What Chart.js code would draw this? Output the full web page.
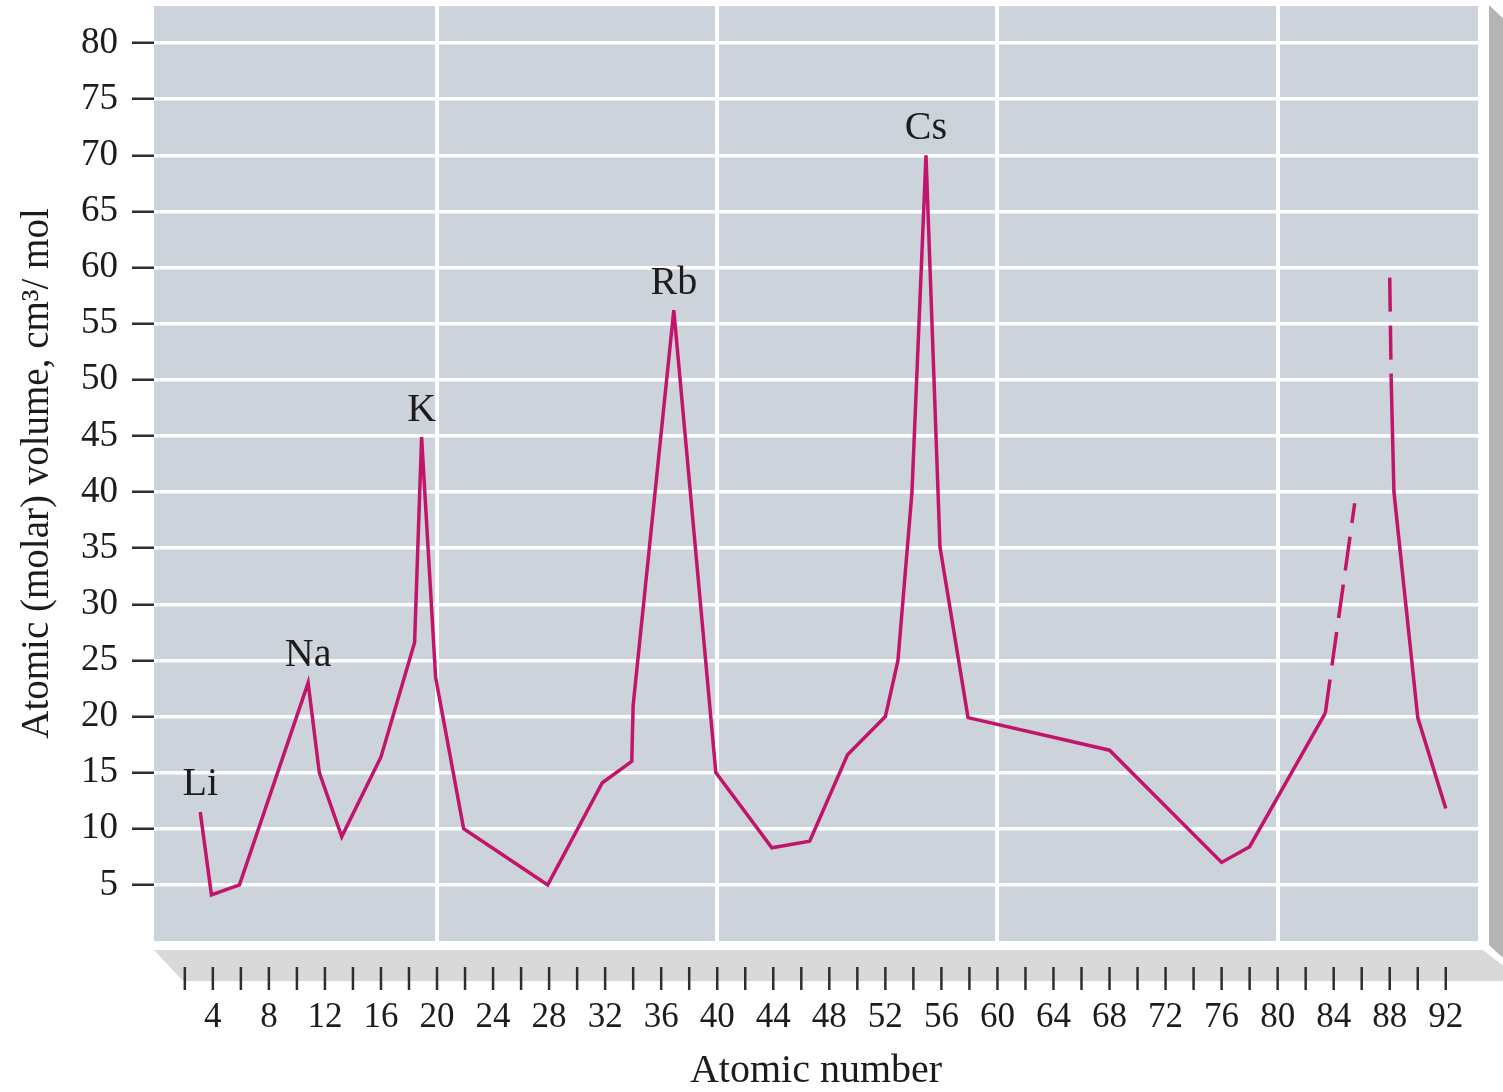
<!DOCTYPE html>
<html>
<head>
<meta charset="utf-8">
<title>Atomic volume vs atomic number</title>
<script src="https://cdn.jsdelivr.net/npm/chart.js@4"></script>
<style>
  body { margin: 0; background: #ffffff; }
  #wrap { width: 1503px; height: 1092px; }
</style>
</head>
<body>
<div id="wrap"><canvas id="volumeChart" width="1503" height="1092"></canvas></div>
<script>
// values (null = break in the curve)
const atomicNumbers = [3.1, 3.9, 5.9, 10.8, 11.6, 13.2, 16, 18.4, 18.9, 19.9, 21.9, 27.9, 31.8, 33.9, 34.0, 36.9, 39.9, 43.9, 46.6, 49.3, 52, 52.9, 53.9, 54.9, 55.9, 57.9, 68, 76, 78, 83.4, 85.5, 86.7, 88, 88.1, 88.3, 90, 92];
const molarVolumes = [11.5, 4.1, 5.0, 23.0, 15.0, 9.3, 16.4, 26.6, 44.9, 23.5, 10.0, 5.0, 14.1, 16.0, 21.0, 56.2, 15.0, 8.3, 8.9, 16.6, 20.0, 25.0, 40.0, 70.0, 35.1, 19.9, 17.0, 7.0, 8.4, 20.3, 39.0, null, 59.1, 50.2, 40.0, 19.9, 11.8];
// segments starting at these atomic numbers are drawn dashed (estimated values)
const dashedFrom = [83.4, 88];

const elementNames = ['Li', 'Na', 'K', 'Rb', 'Cs'];
const elementZ = [3.1, 10.8, 18.9, 36.9, 54.9];

const xTickMin = 4, xTickMax = 92, xTickStep = 4, xGridEvery = 20;
const yTickMin = 5, yTickMax = 80, yTickStep = 5;

const serif = 'Liberation Serif';
const inkColor = '#1c1c1c';
const lineColor = '#c2146a';

const points = atomicNumbers.map((z, i) => ({ x: z, y: molarVolumes[i] }));

// gray panel, floor with small ticks and the side wall
const boxPlugin = {
  id: 'box',
  beforeDraw(chart) {
    const { ctx, chartArea: a, width: W } = chart;
    const xs = chart.scales.x;
    ctx.save();
    // side wall
    ctx.fillStyle = '#b4b4b4';
    ctx.beginPath();
    ctx.moveTo(a.right + 11, a.top - 1);
    ctx.lineTo(W + 2, a.top + 14);
    ctx.lineTo(W + 2, a.bottom + 19);
    ctx.lineTo(a.right + 11, a.bottom + 4);
    ctx.closePath();
    ctx.fill();
    // floor
    ctx.fillStyle = '#d9d9d9';
    ctx.beginPath();
    ctx.moveTo(a.left, a.bottom + 9);
    ctx.lineTo(a.right + 5, a.bottom + 9);
    ctx.lineTo(a.right + 45, a.bottom + 40);
    ctx.lineTo(a.left + 29, a.bottom + 40);
    ctx.closePath();
    ctx.fill();
    ctx.strokeStyle = '#ffffff';
    ctx.lineWidth = 5;
    ctx.beginPath();
    ctx.moveTo(a.right + 6, a.bottom + 5);
    ctx.lineTo(a.right + 40, a.bottom + 31);
    ctx.stroke();
    // panel
    ctx.fillStyle = '#cdd3da';
    ctx.fillRect(a.left, a.top, a.right - a.left, a.bottom - a.top);
    // floor ticks every 2
    ctx.strokeStyle = '#2e2e2e';
    ctx.lineWidth = 2.5;
    for (let z = 2; z <= 92; z += 2) {
      const px = xs.getPixelForValue(z);
      ctx.beginPath();
      ctx.moveTo(px, a.bottom + 26);
      ctx.lineTo(px, a.bottom + 49);
      ctx.stroke();
    }
    ctx.restore();
  },
  afterDatasetsDraw(chart) {
    const { ctx } = chart;
    const xs = chart.scales.x, ys = chart.scales.y;
    ctx.save();
    ctx.fillStyle = inkColor;
    ctx.font = '40px "' + serif + '"';
    ctx.textAlign = 'center';
    ctx.textBaseline = 'middle';
    elementNames.forEach((name, i) => {
      const idx = atomicNumbers.indexOf(elementZ[i]);
      const px = xs.getPixelForValue(atomicNumbers[idx]);
      const py = ys.getPixelForValue(molarVolumes[idx]);
      ctx.fillText(name, px, py - 27);
    });
    ctx.restore();
  }
};

const ctx = document.getElementById('volumeChart').getContext('2d');
new Chart(ctx, {
  type: 'line',
  data: {
    datasets: [{
      data: points,
      borderColor: lineColor,
      borderWidth: 3.5,
      pointRadius: 0,
      tension: 0,
      spanGaps: false,
      segment: {
        borderDash: c => dashedFrom.includes(atomicNumbers[c.p0DataIndex]) ? [34, 14] : undefined
      }
    }]
  },
  options: {
    responsive: false,
    animation: false,
    layout: { padding: { top: 6, right: 25, left: 0, bottom: 0 } },
    plugins: { legend: { display: false }, tooltip: { enabled: false } },
    scales: {
      x: {
        type: 'linear',
        min: -0.2,
        max: 94.3,
        afterBuildTicks: s => { s.ticks = s.ticks.filter(t => t.value >= xTickMin && t.value <= xTickMax); },
        afterFit: s => { s.height = 151; s.paddingLeft = 0; s.paddingRight = 0; },
        ticks: { stepSize: xTickStep, includeBounds: false, color: inkColor, padding: 56, maxRotation: 0, autoSkip: false, font: { family: serif, size: 35 } },
        grid: {
          color: c => (c.tick && c.tick.value % xGridEvery === 0) ? '#ffffff' : 'rgba(0,0,0,0)',
          lineWidth: 4,
          drawTicks: false
        },
        border: { display: false },
        title: { display: true, text: 'Atomic number', color: inkColor, padding: { top: 0, bottom: -3 }, font: { family: serif, size: 40 } }
      },
      y: {
        min: 0,
        max: 83.3,
        afterBuildTicks: s => { s.ticks = s.ticks.filter(t => t.value >= yTickMin && t.value <= yTickMax); },
        afterFit: s => { s.width = 154; s.paddingTop = 0; s.paddingBottom = 0; },
        ticks: { stepSize: yTickStep, includeBounds: false, color: inkColor, padding: 14, font: { family: serif, size: 37 } },
        grid: { color: '#ffffff', lineWidth: 3.5, tickColor: '#2e2e2e', tickLength: 22, tickWidth: 2.5 },
        border: { display: false },
        title: { display: true, text: 'Atomic (molar) volume, cm\u00B3/ mol', color: inkColor, padding: { top: 14, bottom: 4 }, font: { family: serif, size: 39 } }
      }
    }
  },
  plugins: [boxPlugin]
});
</script>
</body>
</html>
